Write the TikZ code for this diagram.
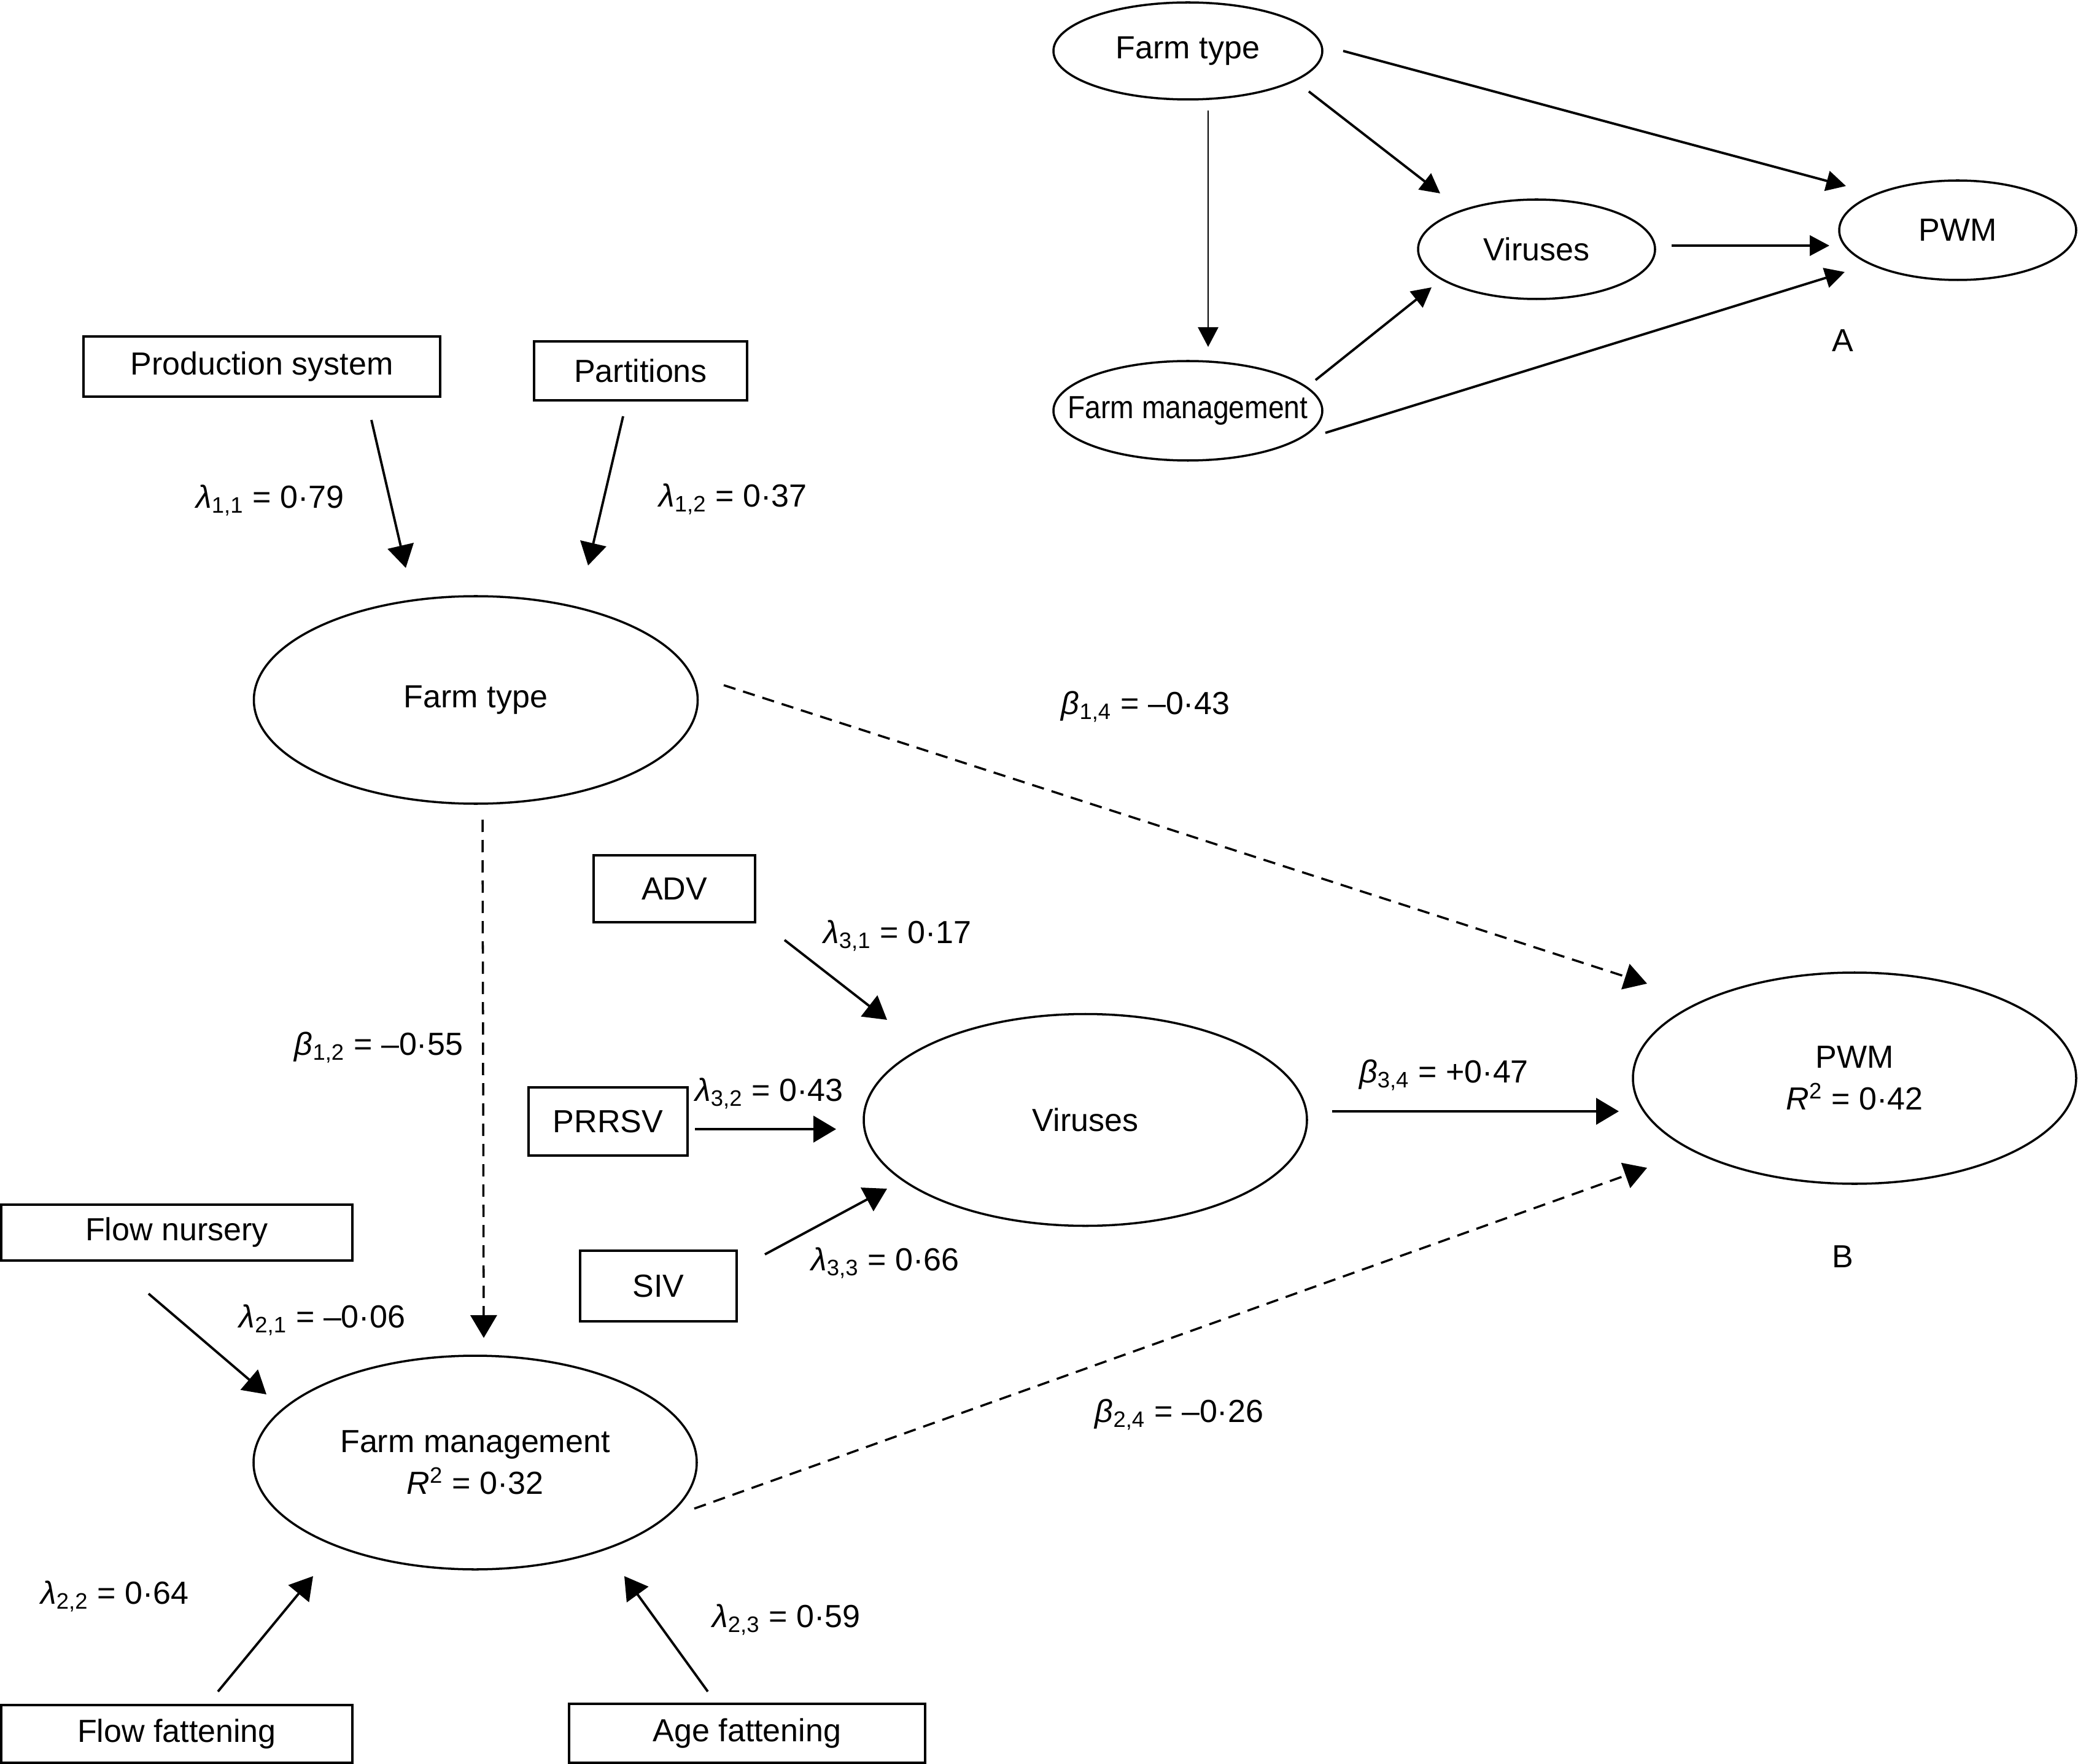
\documentclass[tikz,border=0pt]{standalone}
\usepackage{fontspec}
\setmainfont{Liberation Sans}
\newfontfamily\narrowfont{Liberation Sans}[FakeStretch=0.89]
\usetikzlibrary{shapes.geometric, arrows.meta}

\begin{document}
\begin{tikzpicture}[
    every node/.style={font=\fontsize{14.8}{19.5}\selectfont},
    latent/.style={draw, ellipse, line width=1pt, inner sep=0pt, align=center},
    manifest/.style={draw, rectangle, line width=1.1pt, inner sep=0pt},
    arr/.style={line width=1.1pt, -{Triangle[length=0.37cm, width=0.43cm]}},
    dasharr/.style={arr, line width=1pt, dash pattern=on 0.2cm off 0.13cm},
    arrA/.style={line width=1.1pt, -{Triangle[length=0.32cm, width=0.33cm]}}
]
    \useasboundingbox (0,0) rectangle (33.85,-28.73);

    % Model A
    \node[latent, minimum width=4.38cm, minimum height=1.58cm] (aft) at (19.35,-0.83) {Farm type};
    \node[latent, minimum width=3.86cm, minimum height=1.62cm] (avir) at (25.03,-4.06) {Viruses};
    \node[latent, minimum width=3.86cm, minimum height=1.62cm] (apwm) at (31.89,-3.75) {PWM};
    \node[latent, minimum width=4.38cm, minimum height=1.62cm] (afm) at (19.35,-6.69) {\makebox[0pt]{\narrowfont Farm management}};
    \node (alabel) at (30.02,-5.55) {A};

    \draw[arrA, line width=0.7pt] ([xshift=0.33cm,yshift=-0.97cm]aft.center) -- ([xshift=0.33cm,yshift=1.04cm]afm.center);
    \draw[arrA] ([xshift=1.97cm,yshift=-0.66cm]aft.center) -- ([xshift=-1.57cm,yshift=0.91cm]avir.center);
    \draw[arrA] ([xshift=2.53cm]aft.center) -- ([xshift=-1.82cm,yshift=0.72cm]apwm.center);
    \draw[arrA] ([xshift=2.20cm,yshift=0.06cm]avir.center) -- ([xshift=-2.09cm,yshift=-0.25cm]apwm.center);
    \draw[arrA] ([xshift=2.08cm,yshift=0.50cm]afm.center) -- ([xshift=-1.71cm,yshift=-0.62cm]avir.center);
    \draw[arrA] ([xshift=2.24cm,yshift=-0.36cm]afm.center) -- ([xshift=-1.84cm,yshift=-0.68cm]apwm.center);

    % Model B: latent variables
    \node[latent, minimum width=7.23cm, minimum height=3.38cm] (bft) at (7.75,-11.40) {Farm type};
    \node[latent, minimum width=7.22cm, minimum height=3.45cm] (bvir) at (17.68,-18.24) {Viruses};
    \node[latent, minimum width=7.22cm, minimum height=3.44cm] (bpwm) at (30.21,-17.56) {PWM\\\textit{R}\textsuperscript{2} = 0·42};
    \node[latent, minimum width=7.22cm, minimum height=3.48cm] (bfm) at (7.74,-23.82) {Farm management\\\textit{R}\textsuperscript{2} = 0·32};
    \node (blabel) at (30.02,-20.47) {B};

    % Model B: indicators
    \node[manifest, minimum width=5.81cm, minimum height=0.98cm] (prod) at (4.265,-5.97) {Production system};
    \node[manifest, minimum width=3.47cm, minimum height=0.96cm] (part) at (10.435,-6.04) {Partitions};
    \node[manifest, minimum width=2.63cm, minimum height=1.09cm] (adv) at (10.985,-14.475) {ADV};
    \node[manifest, minimum width=2.59cm, minimum height=1.11cm] (prrsv) at (9.905,-18.265) {PRRSV};
    \node[manifest, minimum width=2.55cm, minimum height=1.15cm] (siv) at (10.725,-20.945) {SIV};
    \node[manifest, minimum width=5.72cm, minimum height=0.91cm] (fnur) at (2.88,-20.075) {Flow nursery};
    \node[manifest, minimum width=5.72cm, minimum height=0.94cm] (ffat) at (2.88,-28.24) {Flow fattening};
    \node[manifest, minimum width=5.80cm, minimum height=0.96cm] (afat) at (12.17,-28.23) {Age fattening};

    % Loadings
    \draw[arr] ([xshift=1.785cm,yshift=-0.87cm]prod.center) -- ([xshift=-1.14cm,yshift=2.15cm]bft.center);
    \draw[arr] ([xshift=-0.285cm,yshift=-0.74cm]part.center) -- ([xshift=1.83cm,yshift=2.19cm]bft.center);
    \draw[arr] ([xshift=1.795cm,yshift=-0.835cm]adv.center) -- ([xshift=-3.23cm,yshift=1.63cm]bvir.center);
    \draw[arr] ([xshift=1.415cm,yshift=-0.125cm]prrsv.center) -- ([xshift=-4.06cm,yshift=-0.15cm]bvir.center);
    \draw[arr] ([xshift=1.735cm,yshift=0.515cm]siv.center) -- ([xshift=-3.23cm,yshift=-1.12cm]bvir.center);
    \draw[arr] ([xshift=-0.46cm,yshift=-0.995cm]fnur.center) -- ([xshift=-3.40cm,yshift=1.11cm]bfm.center);
    \draw[arr] ([xshift=0.67cm,yshift=0.69cm]ffat.center) -- ([xshift=-2.64cm,yshift=-1.85cm]bfm.center);
    \draw[arr] ([xshift=-0.64cm,yshift=0.68cm]afat.center) -- ([xshift=2.43cm,yshift=-1.85cm]bfm.center);

    % Path coefficients
    \draw[dasharr] ([xshift=4.04cm,yshift=0.24cm]bft.center) -- ([xshift=-3.38cm,yshift=1.54cm]bpwm.center);
    \draw[dasharr] ([xshift=0.11cm,yshift=-1.95cm]bft.center) -- ([xshift=0.14cm,yshift=2.03cm]bfm.center);
    \draw[arr] ([xshift=4.02cm,yshift=0.14cm]bvir.center) -- ([xshift=-3.84cm,yshift=-0.54cm]bpwm.center);
    \draw[dasharr] ([xshift=3.57cm,yshift=-0.75cm]bfm.center) -- ([xshift=-3.38cm,yshift=-1.46cm]bpwm.center);

    % Labels
    \node (l11) at (4.40,-8.15) {\textit{λ}\textsubscript{1,1} = 0·79};
    \node (l12) at (11.94,-8.13) {\textit{λ}\textsubscript{1,2} = 0·37};
    \node (b14) at (18.66,-11.51) {\textit{β}\textsubscript{1,4} = –0·43};
    \node (l31) at (14.62,-15.24) {\textit{λ}\textsubscript{3,1} = 0·17};
    \node (l32) at (12.53,-17.81) {\textit{λ}\textsubscript{3,2} = 0·43};
    \node (l33) at (14.42,-20.57) {\textit{λ}\textsubscript{3,3} = 0·66};
    \node (b12) at (6.17,-17.06) {\textit{β}\textsubscript{1,2} = –0·55};
    \node (b34) at (23.52,-17.51) {\textit{β}\textsubscript{3,4} = +0·47};
    \node (l21) at (5.25,-21.50) {\textit{λ}\textsubscript{2,1} = –0·06};
    \node (b24) at (19.21,-23.04) {\textit{β}\textsubscript{2,4} = –0·26};
    \node (l22) at (1.87,-26.00) {\textit{λ}\textsubscript{2,2} = 0·64};
    \node (l23) at (12.81,-26.38) {\textit{λ}\textsubscript{2,3} = 0·59};
\end{tikzpicture}
\end{document}
